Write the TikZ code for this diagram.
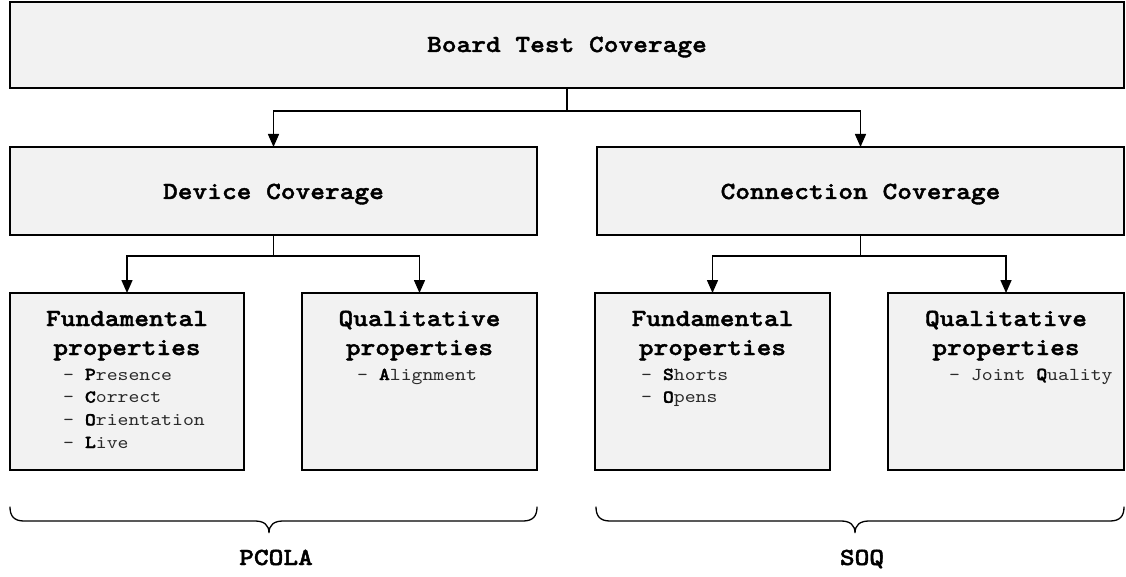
\documentclass[tikz,border=0pt]{standalone}
\usepackage{fontspec}
% typewriter face, widened to the advance width of a 0.6em monospace
\newfontfamily\typeface{lmmono10-regular.otf}[FakeStretch=1.14,
  BoldFont=lmmonolt10-bold.otf, BoldFeatures={FakeBold=1.6}]
\usetikzlibrary{arrows.meta,shadows}
\definecolor{boxfill}{HTML}{F2F2F2}
\definecolor{itemgray}{HTML}{2A2A2A}
\newcommand{\headfont}{\typeface\bfseries\fontsize{24.6}{29}\selectfont}
\newcommand{\itemfont}{\typeface\fontsize{18.2}{22}\selectfont}
\newcommand{\key}[1]{\textbf{\color{black}#1}}
\tikzset{
  box/.style={draw=black, line width=1.4pt, fill=boxfill, inner sep=0pt, outer sep=0pt,
    general shadow={fill=black!75, shadow xshift=1.1pt, shadow yshift=-1.1pt}},
  head/.style={inner sep=0pt, anchor=base, font=\headfont},
  item/.style={inner sep=0pt, anchor=base west, font=\itemfont, text=itemgray},
  conn/.style={draw=black, line width=1.5pt, -{Triangle[length=13pt,width=11pt]}},
  brace/.style={draw=black, line width=1.3pt, line cap=round},
}
\begin{document}
\begin{tikzpicture}[x=1pt,y=-1pt]
\useasboundingbox (0,0) rectangle (1126,577);

% boxes
\node[box, minimum width=1114pt, minimum height=86pt] (top) at (567,45) {};
\node[box, minimum width=527pt, minimum height=88pt] (dev) at (273.5,191) {};
\node[box, minimum width=527pt, minimum height=88pt] (con) at (860.5,191) {};
\node[box, minimum width=234pt, minimum height=177pt] (f1) at (127,381.5) {};
\node[box, minimum width=235pt, minimum height=177pt] (q1) at (419.5,381.5) {};
\node[box, minimum width=235pt, minimum height=177pt] (f2) at (712.5,381.5) {};
\node[box, minimum width=236pt, minimum height=177pt] (q2) at (1006,381.5) {};

% titles
\node[head] (toptxt) at (567,52) {Board Test Coverage};
\node[head] (devtxt) at (273.5,199) {Device Coverage};
\node[head] (contxt) at (860.5,199) {Connection Coverage};

\node[head] (f1a) at (127,326) {Fundamental};
\node[head] (f1b) at (127,355) {properties};
\node[item] (f1i1) at (63,380) {- \key{P}resence};
\node[item] (f1i2) at (63,402.7) {- \key{C}orrect};
\node[item] (f1i3) at (63,425.4) {- \key{O}rientation};
\node[item] (f1i4) at (63,448) {- \key{L}ive};

\node[head] (q1a) at (419.5,326) {Qualitative};
\node[head] (q1b) at (419.5,355) {properties};
\node[item] (q1i1) at (357,380) {- \key{A}lignment};

\node[head] (f2a) at (712.5,326) {Fundamental};
\node[head] (f2b) at (712.5,355) {properties};
\node[item] (f2i1) at (641,380) {- \key{S}horts};
\node[item] (f2i2) at (641,402.7) {- \key{O}pens};

\node[head] (q2a) at (1006,326) {Qualitative};
\node[head] (q2b) at (1006,355) {properties};
\node[item] (q2i1) at (949,380) {- Joint \key{Q}uality};

% connectors
\draw[conn] (top.south) -- ++(0,23) -| (dev.north);
\draw[conn] (top.south) -- ++(0,23) -| (con.north);
\draw[conn] (dev.south) -- ++(0,21) -| (f1.north);
\draw[conn] (dev.south) -- ++(0,21) -| (q1.north);
\draw[conn] (con.south) -- ++(0,21) -| (f2.north);
\draw[conn] (con.south) -- ++(0,21) -| (q2.north);

% braces
\draw[brace] (10,507) .. controls (10,516) and (14,521) .. (24,521) -- (255,521)
  .. controls (264,521) and (269,525) .. (269,533)
  .. controls (269,525) and (274,521) .. (283,521) -- (523,521)
  .. controls (533,521) and (537,516) .. (537,507);
\draw[brace] (596,507) .. controls (596,516) and (600,521) .. (610,521) -- (841,521)
  .. controls (850,521) and (855,525) .. (855,533)
  .. controls (855,525) and (860,521) .. (869,521) -- (1110,521)
  .. controls (1120,521) and (1124,516) .. (1124,507);

% group labels
\node[head] (pcola) at (276,565) {PCOLA};
\node[head] (soq) at (862,565) {SOQ};
\end{tikzpicture}
\end{document}
